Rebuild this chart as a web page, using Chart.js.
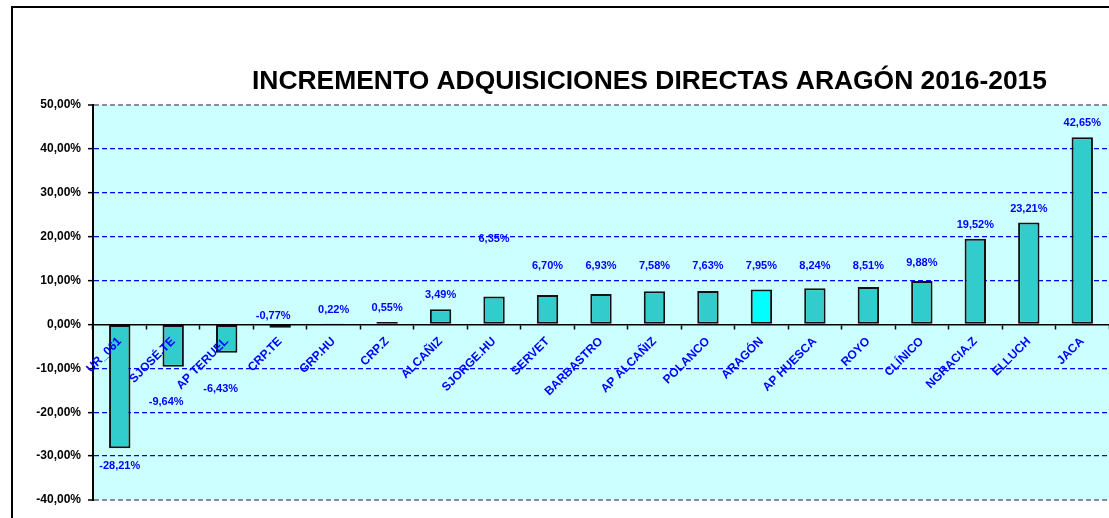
<!DOCTYPE html>
<html><head><meta charset="utf-8">
<script src="https://cdn.jsdelivr.net/npm/chart.js@4/dist/chart.umd.min.js"></script>
<style>html,body{margin:0;padding:0;background:#fff;overflow:hidden}#wrap{position:relative;width:1109px;height:518px}</style>
</head><body><div id="wrap"><canvas id="c" width="1109" height="518"></canvas></div>
<script>
const categories = ['UR_061','SJOSÉ.TE','AP TERUEL','CRP.TE','GRP.HU','CRP.Z','ALCAÑIZ','SJORGE.HU','SERVET','BARBASTRO','AP ALCAÑIZ','POLANCO','ARAGÓN','AP HUESCA','ROYO','CLÍNICO','NGRACIA.Z','ELLUCH','JACA'];
const increments = [-28.21,-9.64,-6.43,-0.77,0.22,0.55,3.49,6.35,6.70,6.93,7.58,7.63,7.95,8.24,8.51,9.88,19.52,23.21,42.65];
const yTicks = [50,40,30,20,10,0,-10,-20,-30,-40];
const highlight = 'ARAGÓN';
const titleText = 'INCREMENTO ADQUISICIONES DIRECTAS ARAGÓN 2016-2015';

const fmt = v => v.toFixed(2).replace('.', ',') + '%';
const FONT = "'Liberation Sans', Arial, sans-serif";

const framePlugin = {
  id: 'frame',
  beforeDraw(chart) {
    const {ctx, chartArea: a} = chart;
    ctx.save();
    ctx.fillStyle = '#CCFFFF';
    ctx.fillRect(a.left, a.top, a.right - a.left, a.bottom - a.top);
    ctx.strokeStyle = '#000';
    ctx.lineWidth = 2;
    ctx.beginPath();
    ctx.moveTo(12, 518); ctx.lineTo(12, 7); ctx.lineTo(1109, 7);
    ctx.stroke();
    ctx.restore();
  },
  afterDraw(chart, args, opts) {
    const {ctx} = chart;
    ctx.save();
    ctx.font = 'bold 25px ' + FONT;
    ctx.fillStyle = '#000';
    ctx.textAlign = 'center';
    ctx.textBaseline = 'alphabetic';
    const w = ctx.measureText(opts.text).width;
    const sx = opts.width / w;
    ctx.translate(opts.cx, opts.baseline);
    ctx.scale(sx, 1);
    ctx.fillText(opts.text, 0, 0);
    ctx.restore();
  }
};

const labelPlugin = {
  id: 'valueLabels',
  afterDatasetsDraw(chart, args, opts) {
    const {ctx} = chart;
    const ys = chart.scales.y;
    const meta = chart.getDatasetMeta(0);
    const data = chart.data.datasets[0].data;
    ctx.save();
    ctx.font = 'bold 11px ' + FONT;
    ctx.fillStyle = '#0000FF';
    ctx.textAlign = 'center';
    ctx.textBaseline = 'middle';
    meta.data.forEach((bar, i) => {
      const v = data[i];
      let y;
      if (opts.levels[i] != null) y = ys.getPixelForValue(opts.levels[i]);
      else y = v >= 0 ? bar.y - opts.gapPos : bar.y + opts.gapNeg;
      ctx.fillText(fmt(v), bar.x + (opts.dx[i] || 0), y);
    });
    ctx.restore();
  }
};

new Chart(document.getElementById('c'), {
  type: 'bar',
  data: {
    labels: categories,
    datasets: [{
      data: increments,
      backgroundColor: categories.map(c => c === highlight ? '#00FFFF' : '#33CCCC'),
      borderColor: '#111',
      borderWidth: 2,
      borderSkipped: false,
      barPercentage: 0.4,
      categoryPercentage: 1
    }]
  },
  plugins: [framePlugin, labelPlugin],
  options: {
    responsive: false,
    animation: false,
    layout: {padding: {top: 105, bottom: 18, left: 0, right: 0}},
    plugins: {
      legend: {display: false},
      tooltip: {enabled: false},
      title: {display: false},
      frame: {text: titleText, cx: 649.5, baseline: 89, width: 795},
      valueLabels: {
        gapPos: 14, gapNeg: 18,
        levels: {1: -17.7, 2: -14.65, 3: 1.85, 7: 19.4, 8: 13.4, 9: 13.4, 10: 13.4, 11: 13.4, 12: 13.4, 13: 13.4, 14: 13.4, 15: 14.0},
        dx: {1: -7, 2: -6, 3: -7}
      }
    },
    scales: {
      x: {
        position: {y: 0},
        offset: true,
        grid: {drawOnChartArea: false, drawTicks: true, tickLength: 4, tickColor: '#000', tickWidth: 1.5, offset: true, z: 1},
        border: {display: true, color: '#000', width: 1.5, z: 1},
        ticks: {z: 2, color: '#0000FF', font: {family: FONT, weight: 'bold', size: 12}, minRotation: 45, maxRotation: 45, autoSkip: false, padding: 6}
      },
      y: {
        min: -40, max: 50,
        afterBuildTicks: s => { s.ticks = yTicks.map(v => ({value: v})); },
        afterFit: s => { s.width = 93; },
        grid: {
          color: c => c.tick && c.tick.value === 0 ? 'rgba(0,0,0,0)' : ((c.tick && (c.tick.value === 50 || c.tick.value === -40)) ? '#8A8A9A' : '#0000FF'),
          lineWidth: c => (c.tick && (c.tick.value === 50 || c.tick.value === -40)) ? 2 : 1.3,
          tickLength: 5, tickColor: '#000', tickWidth: 1.5
        },
        border: {display: true, color: '#000', width: 2, dash: [5, 3]},
        ticks: {color: '#000', font: {family: FONT, weight: 'bold', size: 12}, padding: 7, callback: v => fmt(v)}
      }
    }
  }
});
</script></body></html>
